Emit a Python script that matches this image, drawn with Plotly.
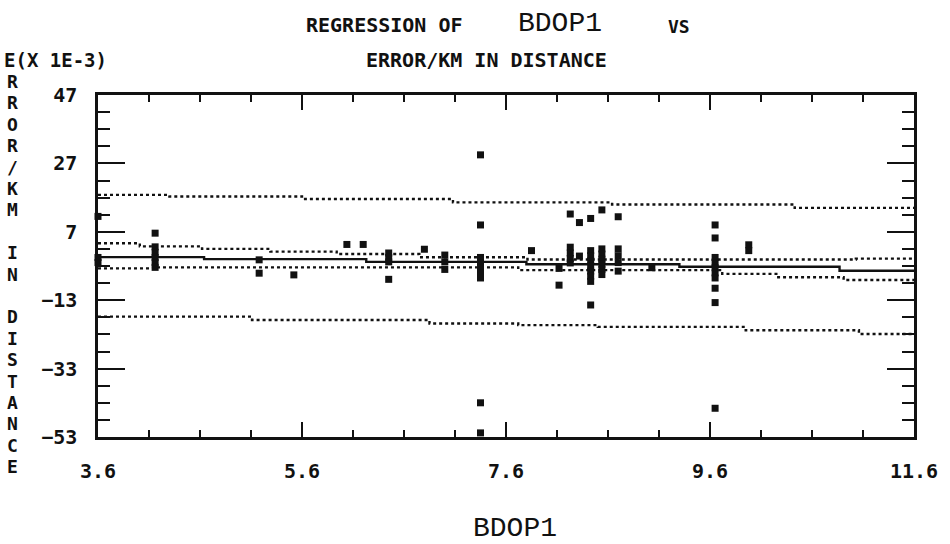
import plotly.graph_objects as go

# ---------------- data ----------------
bdop1 = [3.6, 3.6, 3.6,
         4.16, 4.16, 4.16, 4.16, 4.16, 4.16,
         5.18, 5.18, 5.52,
         6.04, 6.20,
         6.45, 6.45, 6.45, 6.45,
         6.80,
         7.00, 7.00, 7.00,
         7.35, 7.35, 7.35, 7.35, 7.35, 7.35, 7.35, 7.35, 7.35,
         7.85,
         8.12, 8.12,
         8.23, 8.23, 8.23, 8.23, 8.23,
         8.32, 8.32,
         8.43, 8.43, 8.43, 8.43, 8.43, 8.43, 8.43, 8.43, 8.43,
         8.54, 8.54, 8.54, 8.54, 8.54, 8.54, 8.54,
         8.70, 8.70, 8.70, 8.70, 8.70,
         9.03,
         9.65, 9.65, 9.65, 9.65, 9.65, 9.65, 9.65, 9.65, 9.65, 9.65,
         9.98, 9.98]
error_km = [11.5, -0.5, -2.0,
            6.6, 2.6, 1.0, -0.5, -2.0, -3.4,
            -1.2, -5.1, -5.6,
            3.3, 3.3,
            0.8, -0.5, -1.8, -6.9,
            1.9,
            0.2, -1.8, -4.0,
            29.5, 9.0, -0.5, -2.0, -3.5, -5.0, -6.5, -43.0, -51.8,
            1.5,
            -3.7, -8.6,
            12.2, 2.5, 0.8, -0.8, -2.1,
            9.7, -0.1,
            10.9, 1.5, 0.0, -1.5, -3.0, -4.5, -6.0, -7.5, -14.4,
            13.4, 2.0, 0.5, -1.0, -2.5, -4.0, -5.5,
            11.4, 2.0, 0.0, -2.0, -4.5,
            -3.5,
            9.0, 5.2, -0.5, -2.0, -3.5, -5.0, -6.5, -9.5, -13.7, -44.6,
            3.2, 1.5]

# regression line (staircase as printed)
fit_x = [3.6, 4.64, 6.23, 7.80, 9.30, 10.87, 11.6]
fit_y = [-0.4, -1.0, -1.8, -2.5, -3.2, -4.4, -4.4]

# confidence band of the mean (inner dotted lines)
upper_in_x = [3.6, 4.01, 4.62, 5.29, 5.94, 6.75, 7.81, 11.03, 11.6]
upper_in_y = [3.65, 2.75, 2.0, 1.2, 0.5, -0.45, -1.1, -0.85, -0.85]
lower_in_x = [3.6, 4.14, 7.72, 9.72, 10.25, 10.91, 11.6]
lower_in_y = [-3.7, -3.4, -4.2, -5.3, -6.3, -7.1, -7.1]

# prediction band (outer dotted lines)
upper_out_x = [3.6, 4.30, 5.60, 7.08, 8.64, 10.43, 11.6]
upper_out_y = [17.8, 17.3, 16.6, 15.6, 15.0, 14.0, 14.0]
lower_out_x = [3.6, 5.11, 6.85, 7.72, 8.50, 9.95, 11.06, 11.6]
lower_out_y = [-17.8, -18.8, -19.8, -20.3, -20.8, -21.8, -22.9, -22.9]

x_range = [3.6, 11.6]
y_range = [-53, 47]
x_tick0, x_dtick, x_minor = 3.6, 2, 0.5
y_tick0, y_dtick, y_minor = -53, 20, 5

title_1 = "REGRESSION OF"
title_var = "BDOP1"
title_vs = "VS"
title_2 = "ERROR/KM IN DISTANCE"
y_scale_note = "E(X 1E-3)"
y_title_rest = "RROR/KM IN DISTANCE"
x_title = "BDOP1"

# ---------------- layout geometry ----------------
W, H = 950, 544
L, R, T, B = 98, 32, 95, 107
PW, PH = W - L - R, H - T - B


def px(xp):
    return (xp - L) / PW


def py(yp):
    return (H - B - yp) / PH


DOT = "DejaVu Sans Mono"
COUR = "Liberation Mono"
INK = "#111111"

fig = go.Figure()

band_style = dict(color=INK, width=2.4, dash="3px,3px", shape="hv")
for bx, by in [(upper_out_x, upper_out_y), (lower_out_x, lower_out_y),
               (upper_in_x, upper_in_y), (lower_in_x, lower_in_y)]:
    fig.add_trace(go.Scatter(x=bx, y=by, mode="lines", line=band_style,
                             hoverinfo="skip", showlegend=False))

fig.add_trace(go.Scatter(x=fit_x, y=fit_y, mode="lines",
                         line=dict(color=INK, width=2.4, shape="hv"),
                         showlegend=False))

fig.add_trace(go.Scatter(x=bdop1, y=error_km, mode="markers",
                         marker=dict(symbol="square", size=7, color=INK,
                                     line=dict(width=0)),
                         cliponaxis=False, showlegend=False))

axis_common = dict(showgrid=False, zeroline=False, showline=True,
                   linecolor=INK, linewidth=2.5, mirror="ticks",
                   ticks="inside", tickcolor=INK, tickwidth=2.2,
                   tickfont=dict(family=DOT, size=20, color=INK,
                                 weight="bold"))

fig.update_xaxes(range=x_range, tick0=x_tick0, dtick=x_dtick, ticklen=15,
                 ticklabelstandoff=14,
                 minor=dict(ticks="inside", dtick=x_minor, tick0=x_tick0,
                            ticklen=7, tickwidth=2.2, tickcolor=INK),
                 **axis_common)
fig.update_yaxes(range=y_range, tick0=y_tick0, dtick=y_dtick, ticklen=27,
                 ticklabelstandoff=14,
                 minor=dict(ticks="inside", dtick=y_minor, tick0=y_tick0,
                            ticklen=12, tickwidth=2.2, tickcolor=INK),
                 **axis_common)

ann = []
ann.append(dict(text=title_1, x=px(305), y=py(25), xanchor="left",
                yanchor="middle",
                font=dict(family=DOT, size=20, color=INK, weight="bold")))
ann.append(dict(text=title_var, x=px(562), y=py(23), xanchor="center",
                yanchor="middle", font=dict(family=COUR, size=28, color=INK)))
ann.append(dict(text=title_vs, x=px(682), y=py(27), xanchor="center",
                yanchor="middle",
                font=dict(family=DOT, size=18, color=INK, weight="bold")))
ann.append(dict(text=title_2, x=px(365), y=py(60), xanchor="left",
                yanchor="middle",
                font=dict(family=DOT, size=20, color=INK, weight="bold")))
ann.append(dict(text=y_scale_note, x=px(2), y=py(60), xanchor="left",
                yanchor="middle",
                font=dict(family=DOT, size=19, color=INK, weight="bold")))
for i, ch in enumerate(y_title_rest, start=1):
    if ch == " ":
        continue
    ann.append(dict(text=ch, x=px(12), y=py(60 + 21.4 * i), xanchor="center",
                    yanchor="middle",
                    font=dict(family=DOT, size=18, color=INK, weight="bold")))
ann.append(dict(text=x_title, x=px(517), y=py(528), xanchor="center",
                yanchor="middle", font=dict(family=COUR, size=28, color=INK)))

for a in ann:
    a.update(xref="paper", yref="paper", showarrow=False)

fig.update_layout(width=W, height=H, autosize=False,
                  margin=dict(l=L, r=R, t=T, b=B, pad=0),
                  paper_bgcolor="white", plot_bgcolor="white",
                  showlegend=False, annotations=ann)

fig.write_html("out.html")
